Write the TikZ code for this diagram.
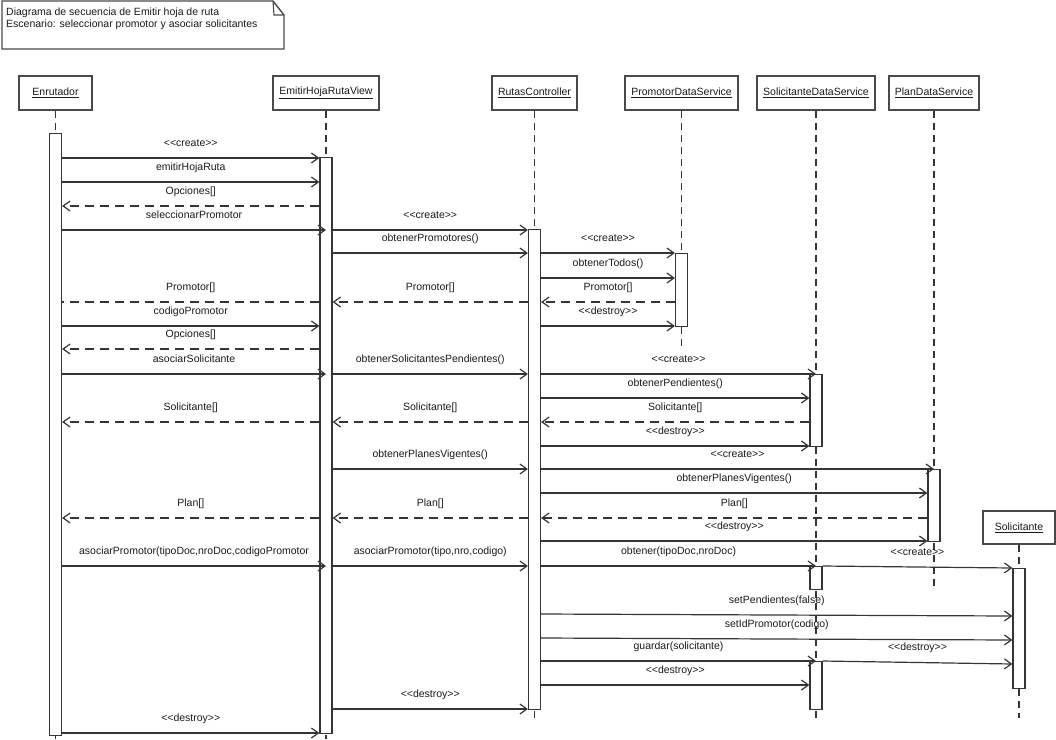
\documentclass[tikz,border=0pt]{standalone}
\usepackage{fontspec}
\setmainfont{Liberation Sans}[Ligatures=TeXOff]
\usetikzlibrary{arrows.meta}
\newcommand\dfont{\fontsize{10.5}{12}\selectfont}
\definecolor{linec}{HTML}{353535}
\definecolor{boxc}{HTML}{4A4A4A}
\definecolor{txtc}{HTML}{1A1A1A}
\tikzset{
  head/.style={draw=boxc, line width=1.4pt, fill=white, minimum height=34pt, inner sep=0pt, font=\dfont, text=txtc},
  life/.style={draw=linec, dash pattern=on 7pt off 5pt, line width=1.2pt},
  actbar/.style={draw=linec, fill=white, line width=1.2pt, minimum width=12pt, inner sep=0pt, anchor=north},
  msg/.style={draw=linec, line width=1.2pt, -{Straight Barb[length=7pt,width=10pt]}},
  ret/.style={msg, dash pattern=on 9pt off 6pt},
  retplain/.style={draw=linec, line width=1.2pt, dash pattern=on 9pt off 6pt},
  lbl/.style={font=\dfont, text=txtc, inner sep=0pt, text height=8pt, text depth=2pt, above=9pt},
  notetxt/.style={font=\dfont, text=txtc, inner sep=0pt, text height=8pt, text depth=2pt, anchor=west},
}
\newcommand\msgl[5][msg]{\draw[#1] (#2 |- 0,#4) -- node[lbl]{#5} (#3 |- 0,#4);}
\begin{document}
\begin{tikzpicture}[x=1pt,y=-1pt]
\useasboundingbox (0,0) rectangle (1056,739);
% note
\draw[boxc, line width=1.4pt, fill=white] (2,1) -- (273,1) -- (284,15) -- (284,49) -- (2,49) -- cycle;
\draw[boxc, line width=1.1pt] (273,1) -- (274,15) -- (284,15);
\node[notetxt] (note1) at (6,12) {Diagrama de secuencia de Emitir hoja de ruta};
\node[notetxt] (note2) at (6,24) {Escenario: seleccionar promotor y asociar solicitantes};
% heads
\node[head, minimum width=73pt] (enr) at (55.5,93) {\underline{Enrutador}};
\node[head, minimum width=106pt] (ehr) at (326,93) {\underline{EmitirHojaRutaView}};
\node[head, minimum width=85pt] (rc) at (534.5,93) {\underline{RutasController}};
\node[head, minimum width=113pt] (pds) at (681.5,93) {\underline{PromotorDataService}};
\node[head, minimum width=118pt] (sds) at (816,93) {\underline{SolicitanteDataService}};
\node[head, minimum width=90pt] (plan) at (934,93) {\underline{PlanDataService}};
\node[head, minimum width=72pt, minimum height=33pt] (sol) at (1019,527.5) {\underline{Solicitante}};
% lifelines
\draw[life] (enr.south) -- (enr.south |- 0,739);
\draw[life] (ehr.south) -- (ehr.south |- 0,739);
\draw[life] (rc.south) -- (rc.south |- 0,718);
\draw[life] (pds.south) -- (pds.south |- 0,347);
\draw[life] (sds.south) -- (sds.south |- 0,718);
\draw[life] (plan.south) -- (plan.south |- 0,587);
\draw[life] (sol.south) -- (sol.south |- 0,718);
% activation bars
\node[actbar, minimum height=602pt] (enrA) at (enr.south |- 0,133) {};
\node[actbar, minimum height=576pt] (ehrA) at (ehr.south |- 0,157) {};
\node[actbar, minimum height=480pt] (rcA) at (rc.south |- 0,229) {};
\node[actbar, minimum height=73pt] (pdsA) at (pds.south |- 0,253) {};
\node[actbar, minimum height=72pt] (sdsA) at (sds.south |- 0,374) {};
\node[actbar, minimum height=23pt] (sdsB) at (sds.south |- 0,566) {};
\node[actbar, minimum height=48pt] (sdsC) at (sds.south |- 0,661) {};
\node[actbar, minimum height=72pt] (planA) at (plan.south |- 0,469) {};
\node[actbar, minimum height=120pt] (solA) at (sol.south |- 0,568) {};
% messages
\msgl{enrA.east}{ehrA.west}{158}{<<create>>}
\msgl{enrA.east}{ehrA.west}{182}{emitirHojaRuta}
\msgl[ret]{ehrA.west}{enrA.east}{206}{Opciones[]}
\msgl{enrA.east}{ehr.south}{230}{seleccionarPromotor}
\msgl{ehrA.east}{rcA.west}{230}{<<create>>}
\msgl{ehrA.east}{rcA.west}{253}{obtenerPromotores()}
\msgl{rcA.east}{pdsA.west}{253}{<<create>>}
\msgl{rcA.east}{pdsA.west}{278}{obtenerTodos()}
\msgl[ret]{pdsA.west}{rcA.east}{302}{Promotor[]}
\msgl[ret]{rcA.west}{ehrA.east}{302}{Promotor[]}
\msgl[retplain]{ehrA.west}{enrA.east}{302}{Promotor[]}
\msgl{rcA.east}{pdsA.west}{326}{<<destroy>>}
\msgl{enrA.east}{ehrA.west}{326}{codigoPromotor}
\msgl[ret]{ehrA.west}{enrA.east}{349}{Opciones[]}
\msgl{enrA.east}{ehr.south}{374}{asociarSolicitante}
\msgl{ehrA.east}{rcA.west}{374}{obtenerSolicitantesPendientes()}
\msgl{rcA.east}{sds.south}{374}{<<create>>}
\msgl{rcA.east}{sdsA.west}{398}{obtenerPendientes()}
\msgl[ret]{sdsA.west}{rcA.east}{422}{Solicitante[]}
\msgl[ret]{rcA.west}{ehrA.east}{422}{Solicitante[]}
\msgl[ret]{ehrA.west}{enrA.east}{422}{Solicitante[]}
\msgl{rcA.east}{sdsA.west}{446}{<<destroy>>}
\msgl{ehrA.east}{rcA.west}{469}{obtenerPlanesVigentes()}
\msgl{rcA.east}{plan.south}{469}{<<create>>}
\msgl{rcA.east}{planA.west}{493}{obtenerPlanesVigentes()}
\msgl[ret]{planA.west}{rcA.east}{518}{Plan[]}
\msgl[ret]{rcA.west}{ehrA.east}{518}{Plan[]}
\msgl[ret]{ehrA.west}{enrA.east}{518}{Plan[]}
\msgl{rcA.east}{planA.west}{541}{<<destroy>>}
\msgl{enrA.east}{ehr.south}{566}{asociarPromotor(tipoDoc,nroDoc,codigoPromotor}
\msgl{ehrA.east}{rcA.west}{566}{asociarPromotor(tipo,nro,codigo)}
\msgl{rcA.east}{sds.south}{566}{obtener(tipoDoc,nroDoc)}
\draw[msg] (sdsB.east |- 0,566) -- node[lbl]{<<create>>} (solA.north west);
\draw[msg] (rcA.east |- 0,614) -- node[lbl]{setPendientes(false)} (solA.west |- 0,616);
\draw[msg] (rcA.east |- 0,638) -- node[lbl]{setIdPromotor(codigo)} (solA.west |- 0,640);
\msgl{rcA.east}{sds.south}{661}{guardar(solicitante)}
\draw[msg] (sdsC.east |- 0,661) -- node[lbl]{<<destroy>>} (solA.west |- 0,664);
\msgl{rcA.east}{sdsC.west}{685}{<<destroy>>}
\msgl{ehrA.east}{rcA.west}{709}{<<destroy>>}
\msgl{enrA.east}{ehrA.west}{733}{<<destroy>>}
\end{tikzpicture}
\end{document}
